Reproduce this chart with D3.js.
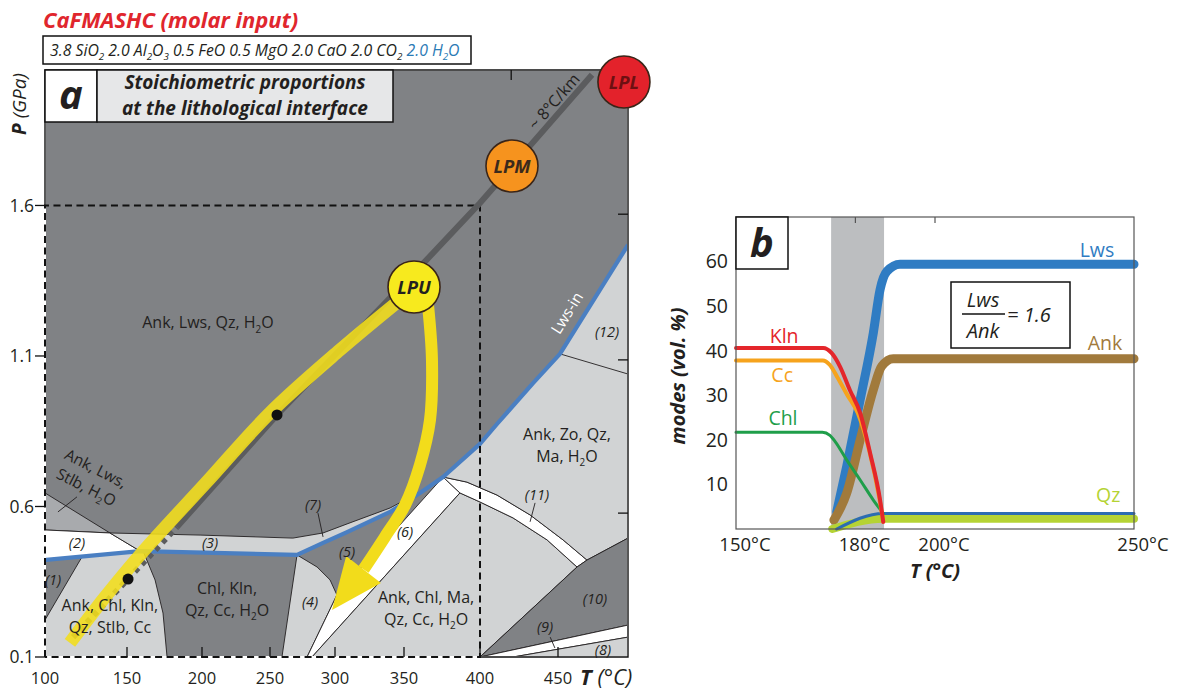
<!DOCTYPE html>
<html>
<head>
<meta charset="utf-8">
<script src="https://cdn.jsdelivr.net/npm/d3@7/dist/d3.min.js"></script>
<style>
body{margin:0;background:#fff;}
svg{display:block;}
</style>
</head>
<body>
<svg id="chart" width="1180" height="691"></svg>
<script>
// ===================== PANEL a : DATA (T in °C, P in GPa) =====================
const tTicksA = [100,150,200,250,300,350,400,450];
const pTicksA = [0.1,0.6,1.1,1.6];
const pTicksRight = [0.578,1.087,1.571];
const tTicksTop = [420];
const studyWindowT = [100,400];
const studyWindowP = [0.1,1.6];

// phase-field polygons [T, P]
const stlbWedge   = [[100,0.645],[139.6,0.512],[100,0.522]];
const field2      = [[100,0.522],[139.6,0.512],[158.7,0.452],[100,0.422]];
const field3and7  = [[139.6,0.512],[198.7,0.505],[267.6,0.495],[290.8,0.512],[308.7,0.542],[339.9,0.595],[360.5,0.648],[375.7,0.698],
                     [360.5,0.645],[339.9,0.582],[308.7,0.515],[290.8,0.479],[270.8,0.439],[158.7,0.452]];
const fieldKlnStlb= [[100,0.422],[158.7,0.452],[160.7,0.452],[168.7,0.356],[174.0,0.246],[176.7,0.1],[100,0.1]];
const field1      = [[100,0.422],[122.6,0.433],[100,0.223]];
const field4      = [[270.8,0.439],[286.2,0.399],[296.2,0.356],[301.4,0.306],[278.5,0.1],[259.2,0.1]];
const field6      = [[375.7,0.698],[386.8,0.645],[282.3,0.1],[278.5,0.1],[301.4,0.306]];
const fieldMa     = [[386.8,0.645],[400,0.615],[421.2,0.562],[443,0.489],[463.6,0.399],[400,0.1],[282.3,0.1]];
const field11     = [[375.7,0.698],[391.4,0.681],[410.9,0.638],[432.1,0.572],[453.6,0.489],[470.7,0.422],
                     [463.6,0.399],[443,0.489],[421.2,0.562],[400,0.615],[386.8,0.645]];
const fieldZo     = [[375.7,0.698],[400,0.808],[410.9,0.874],[434.0,1.010],[451.4,1.107],[500,1.469],[500,0.495],[470.7,0.422],
                     [453.6,0.489],[432.1,0.572],[410.9,0.638],[391.4,0.681]];
const field10     = [[400,0.1],[463.6,0.399],[470.7,0.422],[500,0.495],[500,0.206]];
const field9      = [[400,0.1],[500,0.206],[500,0.166],[421.2,0.1]];
const field8      = [[421.2,0.1],[500,0.166],[500,0.1]];
const line12      = [[451.4,1.107],[500,1.040]];
const lwsIn       = [[100,0.422],[158.7,0.452],[270.8,0.439],[290.8,0.479],[308.7,0.515],[339.9,0.582],[360.5,0.645],[375.7,0.698],
                     [400,0.808],[410.9,0.874],[434.0,1.010],[451.4,1.107],[500,1.469]];

// ~8°C/km geotherm and P-T path
const geotherm          = [[183.3,0.532],[255.4,0.904],[356.6,1.375],[400,1.608],[474.3,2.034]];
const geothermProjected = [[117.1,0.166],[183.3,0.532]];
const pathDots          = [[255.4,0.904],[150.7,0.359]];
const exhumLeft  = [[347.1,1.286],[303.6,1.120],[250,0.911],[202.2,0.675],[158.7,0.439],[136.6,0.299],[115.2,0.147]];
const exhumRight = [[365.8,1.269],[368.4,1.087],[367.1,0.887],[360.5,0.738],[350.7,0.605],[336.2,0.499],[320.7,0.391]];
const exhumRightTip = [297.7,0.256];

const peakNames = ['LPU','LPM','LPL'];
const peakT     = [356.6,420.5,497.1];
const peakP     = [1.329,1.731,2.010];

const fieldLabels = [
  {t:204.4, p:1.210, lines:['Ank, Lws, Qz, H_2O']},
  {t:139.6, p:0.236, lines:['Ank, Chl, Kln,','Qz, Stlb, Cc']},
  {t:218.4, p:0.293, lines:['Chl, Kln,','Qz, Cc, H_2O']},
  {t:364.5, p:0.263, lines:['Ank, Chl, Ma,','Qz, Cc, H_2O']},
  {t:456.4, p:0.804, lines:['Ank, Zo, Qz,','Ma, H_2O']}
];
const stlbLabel = {t:128.1, p:0.695, lines:['Ank, Lws,','Stlb, H_2O']};
const fieldNumbers = ['(1)','(2)','(3)','(4)','(5)','(6)','(7)','(8)','(9)','(10)','(11)','(12)'];
const fieldNumberT = [104.9,119.5,205.9,280.8,308.7,350.7,283.1,482.1,441.7,476.4,436.5,485.0];
const fieldNumberP = [0.356,0.479,0.479,0.283,0.449,0.515,0.605,0.123,0.200,0.293,0.638,1.180];
const pointerLines = [
  [[107.9,0.582],[119.5,0.632]],
  [[286.9,0.578],[290.8,0.499]],
  [[435.3,0.612],[432.1,0.549]],
  [[445.0,0.166],[448.0,0.130]]
];

// ===================== PANEL b : DATA (T in °C, modes in vol.%) =====================
const tTicksB = [150,180,200,250];
const modeTicksB = [10,20,30,40,50,60];
const topTicksB = [180,200];
const reactionWindow = [173.9,187.2];
const kln   = [[150,40.6],[171.9,40.6],[174.0,39.5],[176.1,36.5],[178.6,31.2],[181.2,26.0],[183.7,17.0],[186.2,6.5],[187.0,1.6]];
const cc    = [[150,37.8],[171.8,37.8],[173.6,36.8],[175.5,34.0],[178.0,30.0],[180.6,26.0],[183.5,17.5],[186.0,7.0],[187.0,1.6]];
const chl   = [[150,21.7],[171.7,21.7],[173.6,21.0],[175.0,19.5],[177.8,15.5],[181.2,11.0],[184.5,6.5],[187.0,3.5]];
const minor = [[175.3,0.0],[187.0,3.5],[250,3.5]];
const qz    = [[174.2,0.0],[187.0,2.3],[250,2.3]];
const lws   = [[175.3,3.8],[177.8,14.0],[181.2,29.0],[184.5,44.0],[186.2,53.7],[187.9,57.8],[191.2,59.4],[250,59.4]];
const ank   = [[174.6,2.0],[177.8,8.0],[181.2,20.0],[184.5,31.2],[186.6,36.5],[189.5,38.2],[250,38.2]];
const seriesNamesB = ['Kln','Cc','Chl','Lws','Ank','Qz'];
const seriesLabelT = [162.1,161.6,161.8,240.7,242.7,243.5];
const seriesLabelV = [43.3,34.6,24.9,62.6,41.7,7.6];
const lwsAnkRatio = 1.6;

// ===================== DRAWING =====================
const FONT = "'Open Sans','Noto Sans',sans-serif";
const INK = '#231f20';
const svg = d3.select('#chart').attr('font-family', FONT);

// appends text with "_d" subscripts; lineStart {x, dy} starts a new line inside the same <text>
function rich(textSel, str, fs, fill, lineStart) {
  const parts = str.split(/_(\d)/);
  let shift = 0, first = true;
  parts.forEach((p, i) => {
    if (!p) return;
    const isSub = i % 2 === 1;
    const target = isSub ? fs * 0.28 : 0;
    const ts = textSel.append('tspan').text(p);
    let dy = target - shift;
    if (first && lineStart) { ts.attr('x', lineStart.x); dy += lineStart.dy; }
    if (dy !== 0) ts.attr('dy', dy);
    if (isSub) ts.attr('font-size', fs * 0.62);
    if (fill) ts.attr('fill', fill);
    shift = target; first = false;
  });
}
function multiline(textSel, lines, fs, lh, x) {
  lines.forEach((ln, i) => rich(textSel, ln, fs, null, i === 0 ? null : {x: x, dy: lh}));
}

// ---------- panel a scales ----------
const xA = d3.scaleLinear().domain([100,150,200,250,300,350,400,450,500]).range([45,127,202,270,335,404,480,558,628]);
const yA = d3.scaleLinear().domain([0.1,2.05]).range([657,70]);
const Tmin = 100, Tmax = 500, Pmin = 0.1, Pmax = 2.05;
const lineA = d3.line().x(d => xA(d[0])).y(d => yA(d[1]));
const smoothA = d3.line().x(d => xA(d[0])).y(d => yA(d[1])).curve(d3.curveCatmullRom.alpha(0.5));

const defs = svg.append('defs');
defs.append('clipPath').attr('id','clipA').append('rect')
  .attr('x', xA(Tmin)+1).attr('y', yA(Pmax)+1)
  .attr('width', xA(Tmax)-xA(Tmin)-2).attr('height', yA(Pmin)-yA(Pmax)-2);

const DARK='#808285', MED='#a8aaad', LIGHT='#d1d3d4', WHITE='#ffffff';
const gA = svg.append('g').attr('clip-path','url(#clipA)');
gA.append('rect').attr('x', xA(Tmin)).attr('y', yA(Pmax))
  .attr('width', xA(Tmax)-xA(Tmin)).attr('height', yA(Pmin)-yA(Pmax)).attr('fill', DARK);

const fieldDraw = [
  [stlbWedge, MED],[field2, WHITE],[field3and7, LIGHT],[fieldKlnStlb, LIGHT],[field1, DARK],
  [field4, LIGHT],[field6, WHITE],[fieldMa, LIGHT],[field11, WHITE],[fieldZo, LIGHT],
  [field10, DARK],[field9, WHITE],[field8, LIGHT]
];
fieldDraw.forEach(([pts, fill]) => {
  gA.append('path').attr('d', lineA(pts) + 'Z').attr('fill', fill)
    .attr('stroke', INK).attr('stroke-width', 0.9).attr('stroke-linejoin','round');
});
gA.append('path').attr('d', lineA(line12)).attr('fill','none').attr('stroke', INK).attr('stroke-width', 0.9);
pointerLines.forEach(pl => gA.append('path').attr('d', lineA(pl)).attr('stroke', INK).attr('stroke-width', 0.9));
// Lws-in reaction
gA.append('path').attr('d', lineA(lwsIn)).attr('fill','none').attr('stroke','#4a7fc2')
  .attr('stroke-width', 4.2).attr('stroke-linejoin','round');

// study window (dashed)
const sw = [[studyWindowT[0],studyWindowP[0]],[studyWindowT[0],studyWindowP[1]],[studyWindowT[1],studyWindowP[1]],[studyWindowT[1],studyWindowP[0]],[studyWindowT[0],studyWindowP[0]]];
svg.append('path').attr('d', lineA(sw)).attr('fill','none').attr('stroke','#111')
  .attr('stroke-width', 2).attr('stroke-dasharray','7,4.5');

// frame
const frame = svg.append('g').attr('stroke','#111').attr('stroke-width',1.4).attr('fill','none');
frame.append('path').attr('d', lineA([[Tmin,studyWindowP[1]],[Tmin,Pmax],[Tmax,Pmax],[Tmax,Pmin],[studyWindowT[1],Pmin]]));

// ticks
const tk = svg.append('g').attr('stroke','#111').attr('stroke-width',1.3);
tTicksA.filter(t => t > Tmin).forEach(t => tk.append('line').attr('x1',xA(t)).attr('x2',xA(t)).attr('y1',yA(Pmin)).attr('y2',yA(Pmin)-10));
tTicksTop.forEach(t => tk.append('line').attr('x1',xA(t)).attr('x2',xA(t)).attr('y1',yA(Pmax)).attr('y2',yA(Pmax)+10));
pTicksA.forEach(p => tk.append('line').attr('x1',xA(Tmin)-10).attr('x2',xA(Tmin)).attr('y1',yA(p)).attr('y2',yA(p)));
pTicksRight.forEach(p => tk.append('line').attr('x1',xA(Tmax)-10).attr('x2',xA(Tmax)).attr('y1',yA(p)).attr('y2',yA(p)));

// tick labels
tTicksA.forEach(t => svg.append('text').attr('x', xA(t)).attr('y', 684).attr('text-anchor','middle')
  .attr('font-size',16.5).attr('fill',INK).text(t));
pTicksA.forEach(p => svg.append('text').attr('x', xA(Tmin)-11).attr('y', yA(p)).attr('dy','0.35em')
  .attr('text-anchor','end').attr('font-size',17.5).attr('fill',INK).text(p.toFixed(1)));

// axis titles
const tA = svg.append('text').attr('x', 580).attr('y', 685).attr('font-size', 22).attr('font-style','italic').attr('fill',INK);
tA.append('tspan').attr('font-weight','bold').text('T');
tA.append('tspan').text(' (°C)');
const pA = svg.append('text').attr('transform','translate(26,104) rotate(-90)').attr('text-anchor','middle')
  .attr('font-size', 19).attr('font-style','italic').attr('fill',INK);
pA.append('tspan').attr('font-weight','bold').text('P');
pA.append('tspan').text(' (GPa)');

// geotherm
svg.append('path').attr('d', lineA(geothermProjected)).attr('fill','none').attr('stroke','#5b5c5e')
  .attr('stroke-width', 6).attr('stroke-dasharray','5,5');
svg.append('path').attr('d', lineA(geotherm)).attr('fill','none').attr('stroke','#5b5c5e').attr('stroke-width', 6);

// exhumation path left (translucent yellow band)
svg.append('path').attr('d', smoothA(exhumLeft)).attr('fill','none').attr('stroke','#f3de1b')
  .attr('stroke-width', 13).attr('opacity', 0.88);
pathDots.forEach(d => svg.append('circle').attr('cx', xA(d[0])).attr('cy', yA(d[1])).attr('r', 5.5).attr('fill','#111'));

// exhumation path right with arrow head
{
  const g = svg.append('g');
  g.append('path').attr('d', smoothA(exhumRight)).attr('fill','none').attr('stroke','#f2dc1b').attr('stroke-width', 12);
  const last = exhumRight[exhumRight.length-1];
  const b = [xA(last[0]), yA(last[1])], tip = [xA(exhumRightTip[0]), yA(exhumRightTip[1])];
  const dx = tip[0]-b[0], dy = tip[1]-b[1], L = Math.hypot(dx,dy);
  const nx = -dy/L, ny = dx/L, hw = 22;
  g.append('path').attr('d', `M${b[0]+nx*hw},${b[1]+ny*hw}L${tip[0]},${tip[1]}L${b[0]-nx*hw},${b[1]-ny*hw}Z`).attr('fill','#f2dc1b');
}

// peak circles
const peakFill = ['#f7ea1e','#f6931e','#e3222b'];
const peakText = ['#231f20','#3b2a1c','#6e1012'];
peakNames.forEach((n,i) => {
  svg.append('circle').attr('cx', xA(peakT[i])).attr('cy', yA(peakP[i])).attr('r', 26)
    .attr('fill', peakFill[i]).attr('stroke','#3a2518').attr('stroke-width',1.6);
  svg.append('text').attr('x', xA(peakT[i])).attr('y', yA(peakP[i])).attr('dy','0.36em').attr('text-anchor','middle')
    .attr('font-size',18.5).attr('font-weight','bold').attr('font-style','italic').attr('fill', peakText[i]).text(n);
});

// geotherm label
{
  const a = geotherm[geotherm.length-2], b = geotherm[geotherm.length-1];
  const ang = Math.atan2(yA(b[1])-yA(a[1]), xA(b[0])-xA(a[0])) * 180/Math.PI;
  svg.append('text').attr('transform', `translate(${xA(447.5)},${yA(1.945)}) rotate(${ang})`)
    .attr('text-anchor','middle').attr('dy','0.35em').attr('font-size',16).attr('fill',INK).text('~ 8°C/km');
}
// Lws-in label
{
  const a = lwsIn[lwsIn.length-2], b = lwsIn[lwsIn.length-1];
  const ang = Math.atan2(yA(b[1])-yA(a[1]), xA(b[0])-xA(a[0])) * 180/Math.PI;
  svg.append('text').attr('transform', `translate(${xA(456.4)},${yA(1.243)}) rotate(${ang})`)
    .attr('text-anchor','middle').attr('dy','0.35em').attr('font-size',15.5).attr('fill','#fff').text('Lws-in');
}

// field labels (one <text> per field)
fieldLabels.forEach(fl => {
  const n = fl.lines.length, lh = 22;
  const x = xA(fl.t);
  const t = svg.append('text').attr('x', x).attr('y', yA(fl.p) - (n-1)/2*lh).attr('dy','0.35em')
    .attr('text-anchor','middle').attr('font-size',16).attr('fill',INK);
  multiline(t, fl.lines, 16, lh, x);
});
{
  const g = svg.append('g').attr('transform', `translate(${xA(stlbLabel.t)},${yA(stlbLabel.p)}) rotate(27)`);
  const t = g.append('text').attr('x', 0).attr('y', -10.5).attr('dy','0.35em').attr('text-anchor','middle')
    .attr('font-size',15.5).attr('fill',INK);
  multiline(t, stlbLabel.lines, 15.5, 21, 0);
}
fieldNumbers.forEach((n,i) => svg.append('text').attr('x', xA(fieldNumberT[i])).attr('y', yA(fieldNumberP[i])).attr('dy','0.35em')
  .attr('text-anchor','middle').attr('font-size',14.5).attr('font-style','italic').attr('fill',INK).text(n));

// boxes "a" and title
svg.append('rect').attr('x',45).attr('y',70).attr('width',52).attr('height',52).attr('fill','#fff').attr('stroke','#111').attr('stroke-width',1.5);
svg.append('text').attr('x',71).attr('y',109).attr('text-anchor','middle').attr('font-size',40).attr('font-weight','bold')
  .attr('font-style','italic').attr('fill',INK).text('a');
svg.append('rect').attr('x',97).attr('y',70).attr('width',296).attr('height',52).attr('fill','#e6e7e8').attr('stroke','#111').attr('stroke-width',1.5);
{
  const t = svg.append('text').attr('x',245).attr('y',89).attr('text-anchor','middle').attr('font-size',19)
    .attr('font-weight','bold').attr('font-style','italic').attr('fill',INK);
  multiline(t, ['Stoichiometric proportions','at the lithological interface'], 19, 26, 245);
}

// header
svg.append('text').attr('x',43).attr('y',28).attr('font-size',22).attr('font-weight','bold').attr('font-style','italic')
  .attr('fill','#e0262d').text('CaFMASHC (molar input)');
svg.append('rect').attr('x',43).attr('y',36).attr('width',428).attr('height',28).attr('fill','#fff').attr('stroke','#111').attr('stroke-width',1.5);
{
  const t = svg.append('text').attr('x',50).attr('y',56).attr('font-size',15.8).attr('font-style','italic').attr('fill',INK);
  rich(t, '3.8 SiO_2 2.0 Al_2O_3 0.5 FeO 0.5 MgO 2.0 CaO 2.0 CO_2 ', 15.8);
  rich(t, '2.0 H_2O', 15.8, '#2a7ab5');
}

// ===================== PANEL b =====================
const xB = d3.scaleLinear().domain([150,250]).range([736,1134]);
const yB = d3.scaleLinear().domain([0,70]).range([529,217]);
const lineB = d3.line().x(d => xB(d[0])).y(d => yB(d[1])).curve(d3.curveMonotoneX);

svg.append('rect').attr('x', xB(reactionWindow[0])).attr('y', yB(70)).attr('width', xB(reactionWindow[1])-xB(reactionWindow[0]))
  .attr('height', yB(0)-yB(70)).attr('fill','#bcbec0');

const seriesDraw = [
  [lws, '#2f7cc3', 9], [ank, '#a17a3c', 9], [qz, '#b5d334', 8], [minor, '#2c6cb2', 3],
  [chl, '#1f9e4a', 3], [cc, '#f6a31d', 4], [kln, '#e4262b', 4]
];
seriesDraw.forEach(([d, c, w]) => svg.append('path').attr('d', lineB(d)).attr('fill','none').attr('stroke', c)
  .attr('stroke-width', w).attr('stroke-linecap','round').attr('stroke-linejoin','round'));

svg.append('rect').attr('x', xB(150)).attr('y', yB(70)).attr('width', xB(250)-xB(150)).attr('height', yB(0)-yB(70))
  .attr('fill','none').attr('stroke','#555').attr('stroke-width',1.2);
topTicksB.forEach(t => svg.append('line').attr('x1',xB(t)).attr('x2',xB(t)).attr('y1',yB(70)).attr('y2',yB(70)+6)
  .attr('stroke','#555').attr('stroke-width',1.2));

tTicksB.forEach(t => svg.append('text').attr('x', xB(t)+9).attr('y', 551).attr('text-anchor','middle')
  .attr('font-size',18.5).attr('fill',INK).text(t + '°C'));
modeTicksB.forEach(v => svg.append('text').attr('x', 728).attr('y', yB(v)).attr('dy','0.35em').attr('text-anchor','end')
  .attr('font-size',19.5).attr('fill',INK).text(v));

svg.append('text').attr('x', 935).attr('y', 578).attr('text-anchor','middle').attr('font-size',20).attr('font-weight','bold')
  .attr('font-style','italic').attr('fill',INK).text('T (°C)');
svg.append('text').attr('transform','translate(685,376) rotate(-90)').attr('text-anchor','middle').attr('font-size',20)
  .attr('font-weight','bold').attr('font-style','italic').attr('fill',INK).text('modes (vol. %)');

const seriesColor = {Kln:'#e4262b', Cc:'#f6a31d', Chl:'#1f9e4a', Lws:'#2f7cc3', Ank:'#a17a3c', Qz:'#b5d334'};
seriesNamesB.forEach((n,i) => svg.append('text').attr('x', xB(seriesLabelT[i])).attr('y', yB(seriesLabelV[i])).attr('dy','0.35em')
  .attr('text-anchor','middle').attr('font-size',19.5).attr('fill', seriesColor[n]).text(n));

// "b" box
svg.append('rect').attr('x', xB(150)).attr('y', yB(70)).attr('width',52).attr('height',52).attr('fill','#fff').attr('stroke','#111').attr('stroke-width',1.5);
svg.append('text').attr('x', xB(150)+26).attr('y', yB(70)+40).attr('text-anchor','middle').attr('font-size',40).attr('font-weight','bold')
  .attr('font-style','italic').attr('fill',INK).text('b');

// ratio box
svg.append('rect').attr('x',951).attr('y',282).attr('width',119).attr('height',66).attr('fill','#fff').attr('stroke','#111').attr('stroke-width',1.5);
svg.append('text').attr('x',983).attr('y',307).attr('text-anchor','middle').attr('font-size',20).attr('font-style','italic').attr('fill',INK).text('Lws');
svg.append('line').attr('x1',962).attr('x2',1005).attr('y1',314).attr('y2',314).attr('stroke','#111').attr('stroke-width',1.4);
svg.append('text').attr('x',983).attr('y',338).attr('text-anchor','middle').attr('font-size',20).attr('font-style','italic').attr('fill',INK).text('Ank');
svg.append('text').attr('x',1007).attr('y',322).attr('font-size',20).attr('font-style','italic').attr('fill',INK).text('= ' + lwsAnkRatio.toFixed(1));
</script>
</body>
</html>
